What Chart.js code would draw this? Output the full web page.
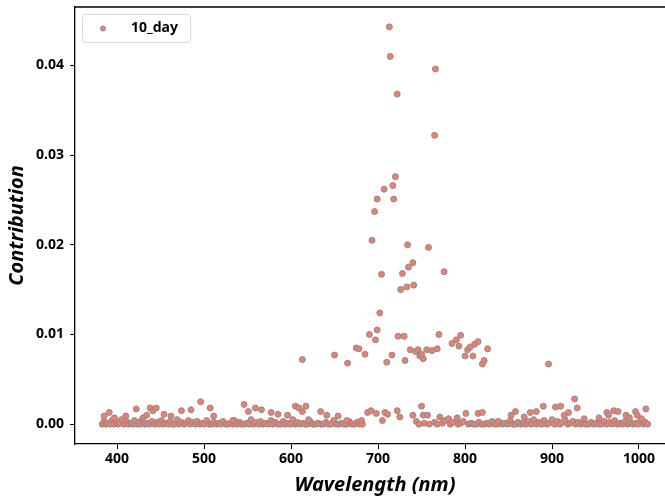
<!DOCTYPE html>
<html>
<head>
<meta charset="utf-8">
<script src="https://cdn.jsdelivr.net/npm/chart.js@4.4.1/dist/chart.umd.min.js"></script>
<style>
  body { margin: 0; background: #fff; }
  #wrap { width: 665px; height: 503px; overflow: hidden; position: relative; }
</style>
</head>
<body>
<div id="wrap"><canvas id="chart" width="676" height="503"></canvas></div>
<script>
// Contribuição por comprimento de onda (10_day)

// pontos quase nulos, faixa visível (383-682 nm)
const visX = [383,385,387,389,392,394,396,399,401,403,405,408,411,413,416,418,420,423,425,427,429,432,435,437,440,443,446,448,451,453,456,459,461,464,466,469,471,474,477,479,482,484,487,490,492,495,498,500,503,506,509,511,514,517,519,522,525,527,530,533,535,538,541,543,546,549,552,554,557,560,563,565,568,571,574,577,579,582,585,588,591,593,596,599,602,605,607,610,613,616,619,622,625,628,631,634,637,640,643,646,649,652,655,658,661,664,667,670,673,676,679,682];
const visY = [0,0.0003,0,0.0001,0,0.0004,0,0.0002,0,0.0001,0.0005,0,0.0003,0,0.0001,0,0.0004,0,0.0002,0,0.0005,0,0.0001,0,0.0003,0,0.0002,0,0.0004,0,0.0001,0,0.0003,0,0,0.0005,0,0.0002,0,0.0001,0.0004,0,0.0002,0,0.0003,0,0.0001,0,0.0004,0,0,0.0002,0,0.0001,0,0.0003,0,0,0.0001,0,0.0004,0,0.0002,0,0,0.0001,0,0.0005,0,0.0002,0,0.0003,0,0.0001,0,0.0004,0,0.0002,0,0,0.0003,0,0.0001,0,0.0005,0,0.0002,0,0.0001,0,0,0.0003,0,0,0.0001,0,0,0.0002,0,0,0.0004,0,0,0.0001,0,0,0.0003,0,0,0.0002,0,0];

// pontos quase nulos, infravermelho (744-1010 nm)
const nirX = [744,747,753,759,765,768,774,777,783,786,792,795,798,804,807,810,813,816,819,822,825,828,831,834,837,840,843,846,849,852,855,858,861,864,867,870,873,876,879,882,885,888,891,894,897,900,903,906,909,912,915,918,921,924,927,930,933,936,939,942,945,948,951,954,957,960,963,966,969,972,975,978,981,984,987,990,993,996,999,1002,1005,1007,1010];
const nirY = [0.0003,0,0.0001,0,0.0002,0,0.0001,0.0004,0,0.0002,0,0.0001,0.0003,0,0.0001,0,0,0.0002,0,0,0.0001,0,0.0003,0,0,0.0002,0,0.0001,0,0.0004,0,0,0.0002,0,0.0001,0,0.0003,0,0.0005,0,0.0002,0,0.0004,0,0.0001,0.0005,0,0.0003,0,0.0002,0.0005,0,0.0001,0.0003,0,0.0002,0,0.0001,0,0,0.0002,0,0.0001,0,0,0.0003,0,0.0002,0,0.0004,0,0.0001,0,0.0003,0,0.0002,0,0.0001,0,0.0004,0,0.0002,0];

// pontos levemente elevados ao longo de todo o espectro
const lowX = [385,391,397,410,422,430,434,438,441,445,454,462,474,485,496,507,511,533,546,551,559,566,577,585,596,605,609,613,617,620,634,641,654,664,681,688,692,698,705,708,711,722,725,740,750,752,757,771,781,791,801,815,820,838,853,858,868,875,882,890,904,910,914,919,926,929,937,954,963,965,971,976,985,989,996,998,1003,1008];
const lowY = [0.0009,0.0013,0.0007,0.0009,0.0017,0.0007,0.0010,0.0018,0.0015,0.0018,0.0011,0.0009,0.0015,0.0016,0.0025,0.0018,0.0009,0.0004,0.0022,0.0014,0.0018,0.0016,0.0013,0.0011,0.0010,0.0020,0.0018,0.0014,0.0020,0.0005,0.0014,0.0010,0.0009,0.0004,0.0004,0.0013,0.0015,0.0012,0.0004,0.0013,0.0011,0.0015,0.0008,0.0010,0.0020,0.0010,0.0010,0.0008,0.0006,0.0007,0.0012,0.0012,0.0013,0.0003,0.0010,0.0014,0.0008,0.0013,0.0014,0.0020,0.0019,0.0020,0.0010,0.0013,0.0028,0.0018,0.0006,0.0007,0.0013,0.0010,0.0015,0.0014,0.0010,0.0007,0.0014,0.0010,0.0006,0.0017];

// pico na borda do vermelho
const peakX = [613,650,665,675,678,685,690,693,696,697,699,699,702,704,707,710,713,714,716,717,718,720,722,723,726,728,730,731,733,734,735,737,740,741,743,746,748,750,752,756,758,762,765,766,768,770,776,785,790,793,795,800,803,806,809,811,815,820,822,826,896];
const peakY = [0.0072,0.0077,0.0068,0.0085,0.0084,0.0078,0.0100,0.0205,0.0237,0.0094,0.0105,0.0251,0.0124,0.0167,0.0262,0.0069,0.0443,0.0410,0.0077,0.0266,0.0251,0.0276,0.0368,0.0098,0.0150,0.0168,0.0098,0.0071,0.0153,0.0200,0.0175,0.0083,0.0180,0.0155,0.0081,0.0083,0.0076,0.0078,0.0073,0.0083,0.0197,0.0082,0.0322,0.0396,0.0084,0.0100,0.0170,0.0090,0.0094,0.0087,0.0099,0.0076,0.0083,0.0086,0.0076,0.0089,0.0092,0.0067,0.0071,0.0084,0.0067];

const xTicks = [400, 500, 600, 700, 800, 900, 1000];
const yTicks = [0, 0.01, 0.02, 0.03, 0.04];

function juntar(xs, ys) {
  return xs.map((x, i) => ({ x: x, y: ys[i] }));
}

const pontos = [].concat(
  juntar(visX, visY),
  juntar(nirX, nirY),
  juntar(lowX, lowY),
  juntar(peakX, peakY)
);

const fonte = "'Noto Sans', 'Open Sans', sans-serif";
const corPonto = "#EE7F6E";
const corBorda = "#8C8C8C";

// moldura superior/direita + legenda dentro da área do gráfico
const molduraELegenda = {
  id: "molduraELegenda",
  afterDraw(chart) {
    const ctx = chart.ctx;
    const a = chart.chartArea;
    ctx.save();
    ctx.strokeStyle = "#000";
    ctx.lineWidth = 1.3;
    ctx.beginPath();
    ctx.moveTo(a.left, a.top);
    ctx.lineTo(a.right, a.top);
    ctx.lineTo(a.right, a.bottom);
    ctx.stroke();

    const x0 = 82, y0 = 14, w = 108, h = 28;
    ctx.fillStyle = "rgba(255,255,255,0.8)";
    ctx.strokeStyle = "#d9d9d9";
    ctx.lineWidth = 1;
    ctx.beginPath();
    ctx.roundRect(x0 + 0.5, y0 + 0.5, w, h, 3);
    ctx.fill();
    ctx.stroke();
    ctx.beginPath();
    ctx.arc(103, 28.5, 2.5, 0, Math.PI * 2);
    ctx.fillStyle = corPonto;
    ctx.fill();
    ctx.strokeStyle = corBorda;
    ctx.stroke();
    ctx.fillStyle = "#000";
    ctx.font = "bold 14px " + fonte;
    ctx.textBaseline = "middle";
    ctx.fillText(chart.data.datasets[0].label, 131, 28);
    ctx.restore();
  },
};

const ctx = document.getElementById("chart").getContext("2d");
new Chart(ctx, {
  type: "scatter",
  data: {
    datasets: [
      {
        label: "10_day",
        data: pontos,
        backgroundColor: corPonto,
        borderColor: corBorda,
        borderWidth: 1,
        pointRadius: 3,
      },
    ],
  },
  options: {
    responsive: false,
    animation: false,
    layout: { autoPadding: false, padding: { left: 0, right: 1, top: 7, bottom: 0 } },
    plugins: {
      legend: { display: false },
      tooltip: { enabled: false },
    },
    scales: {
      x: {
        type: "linear",
        min: 351.6,
        max: 1041.4,
        afterBuildTicks: (s) => {
          s.ticks = xTicks.map((v) => ({ value: v }));
        },
        afterFit: (s) => {
          s.height = 59;
          s.paddingLeft = 0;
          s.paddingRight = 0;
        },
        border: { color: "#000", width: 1.3 },
        grid: { drawOnChartArea: false, tickLength: 5, tickColor: "#000" },
        ticks: {
          color: "#000",
          padding: 2,
          font: { family: fonte, size: 14, weight: "bold" },
          callback: (v) => String(v),
        },
        title: {
          display: true,
          text: "Wavelength (nm)",
          color: "#000",
          padding: { top: 0, bottom: 6 },
          font: { family: fonte, size: 20, weight: "bold", style: "italic" },
        },
      },
      y: {
        min: -0.002215,
        max: 0.046515,
        afterBuildTicks: (s) => {
          s.ticks = yTicks.map((v) => ({ value: v }));
        },
        afterFit: (s) => {
          s.width = 75;
          s.paddingTop = 0;
          s.paddingBottom = 0;
        },
        border: { color: "#000", width: 1.3 },
        grid: { drawOnChartArea: false, tickLength: 5, tickColor: "#000" },
        ticks: {
          color: "#000",
          padding: 6,
          font: { family: fonte, size: 14, weight: "bold" },
          callback: (v) => v.toFixed(2),
        },
        title: {
          display: true,
          text: "Contribution",
          color: "#000",
          padding: { top: 5, bottom: 0 },
          font: { family: fonte, size: 20, weight: "bold", style: "italic" },
        },
      },
    },
  },
  plugins: [molduraELegenda],
});
</script>
</body>
</html>
